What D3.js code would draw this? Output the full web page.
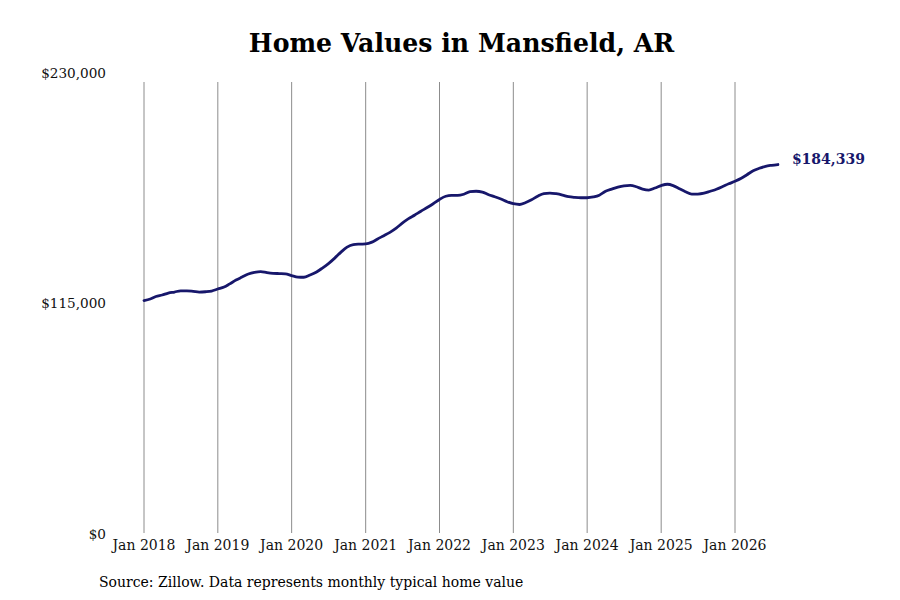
<!DOCTYPE html>
<html>
<head>
<meta charset="utf-8">
<script src="https://cdn.jsdelivr.net/npm/d3@7"></script>
<style>
html,body{margin:0;padding:0;background:#fff;}
svg{display:block;}
text{font-family:"DejaVu Serif",serif;}
</style>
</head>
<body>
<svg id="chart" width="900" height="600"></svg>
<script>
const startMonth = "2018-01";
const values = [
  116490,117240,118480,119230,120220,120720,121320,121320,121070,120720,120870,121220,
  122220,123210,124800,126700,128190,129690,130530,130930,130430,130080,129930,129780,
  128940,128190,128090,129180,130580,132670,134910,137650,140640,143130,144370,144620,
  144720,145620,147210,148850,150500,152590,155080,157310,159160,161050,162890,164780,
  166920,168520,168910,168910,169510,170760,171000,170610,169260,168270,167120,165780,
  164780,164390,165280,166780,168520,169860,170110,169760,169110,168270,167920,167770,
  167770,168170,169010,171000,172100,173100,173740,173940,173250,172100,171600,172600,
  173840,174490,173840,172250,170760,169610,169610,170010,171000,172000,173340,174740,
  175980,177480,179220,181210,182460,183450,183950,184339
];
const yTicks = [0, 115000, 230000];
const xTickYears = [2018,2019,2020,2021,2022,2023,2024,2025,2026];
const title = "Home Values in Mansfield, AR";
const source = "Source: Zillow. Data represents monthly typical home value";

const parse = d3.timeParse("%Y-%m");
const t0 = parse(startMonth);
const data = values.map((v,i)=>({date:d3.timeMonth.offset(t0,i), value:v}));

const svg = d3.select("#chart");
const x = d3.scaleTime().domain([new Date(2018,0,1), new Date(2026,0,1)]).range([144,735]);
const y = d3.scaleLinear().domain([0,230000]).range([534,73]);
const fmt = d3.format("$,");
const lineColor = "#17176b";

// title
svg.append("text").attr("x",461.5).attr("y",52).attr("text-anchor","middle")
  .attr("font-size",25.2).attr("font-weight","bold").attr("fill","#000").text(title);

// vertical grid lines
const xTicks = xTickYears.map(yr=>new Date(yr,0,1));
svg.append("g").selectAll("line").data(xTicks).join("line")
  .attr("x1",d=>x(d)).attr("x2",d=>x(d)).attr("y1",82).attr("y2",533)
  .attr("stroke","#8c8c8c").attr("stroke-width",1);

// x tick labels
svg.append("g").selectAll("text").data(xTicks).join("text")
  .attr("x",d=>x(d)).attr("y",550).attr("text-anchor","middle")
  .attr("font-size",14).attr("fill","#111").text(d3.timeFormat("Jan %Y"));

// y tick labels
svg.append("g").selectAll("text").data(yTicks).join("text")
  .attr("x",106).attr("y",d=>y(d)).attr("dy","0.35em").attr("text-anchor","end")
  .attr("font-size",13.6).attr("fill","#111").text(d=>fmt(d));

// line
const line = d3.line().x(d=>x(d.date)).y(d=>y(d.value)).curve(d3.curveMonotoneX);
svg.append("path").datum(data).attr("d",line).attr("fill","none")
  .attr("stroke",lineColor).attr("stroke-width",2.8).attr("stroke-linejoin","round").attr("stroke-linecap","round");

// end label
const last = data[data.length-1];
svg.append("text").attr("x",x(last.date)+14).attr("y",y(last.value)-5).attr("dy","0.35em")
  .attr("font-size",14).attr("font-weight","bold").attr("fill",lineColor).text(fmt(last.value));

// source
svg.append("text").attr("x",99).attr("y",587).attr("font-size",14).attr("fill","#000").text(source);
</script>
</body>
</html>
